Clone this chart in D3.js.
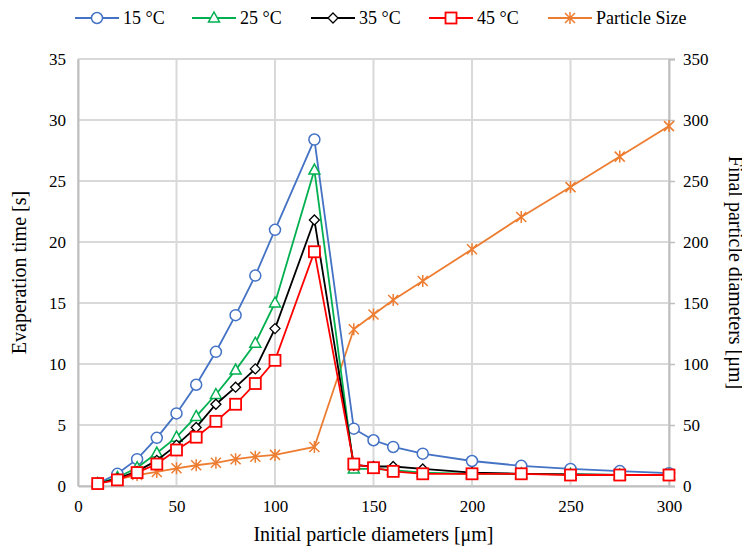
<!DOCTYPE html>
<html><head><meta charset="utf-8">
<script src="https://cdn.jsdelivr.net/npm/d3@7"></script>
</head><body><svg id="c" width="750" height="549" font-family="Liberation Serif"></svg>
<script>
const diameters = [10,20,30,40,50,60,70,80,90,100,120,140,150,160,175,200,225,250,275,300];
const t15 = [0.2,1.0,2.2,3.95,5.95,8.3,11.0,14.0,17.25,21.0,28.4,4.7,3.75,3.2,2.65,2.05,1.65,1.4,1.22,1.05];
const t25 = [0.2,0.7,1.5,2.7,4.0,5.7,7.5,9.5,11.7,15.0,25.9,1.4,1.4,1.3,1.1,1.0,1.0,0.95,0.9,0.9];
const t35 = [0.2,0.6,1.2,2.1,3.35,4.8,6.7,8.1,9.6,12.9,21.8,1.7,1.6,1.6,1.4,1.1,1.0,0.95,0.9,0.9];
const t45 = [0.2,0.5,1.1,1.8,2.95,4.0,5.3,6.7,8.4,10.3,19.2,1.8,1.5,1.2,1.0,1.0,1.0,0.9,0.9,0.9];
const sizes = [2.5,5.5,9,11.5,14.5,17,19,22,24,25.5,32,128.5,140.5,152.5,168,194,220.5,245,270,295];
const seriesNames = ["15 °C","25 °C","35 °C","45 °C","Particle Size"];
const xTicks = [0,50,100,150,200,250,300];
const yLeftTicks = [0,5,10,15,20,25,30,35];
const yRightTicks = [0,50,100,150,200,250,300,350];

const O = -8; // compensates the default body margin
const svg = d3.select("#c");
const L=78+O,R=669+O,T=59+O,B=486+O;
const x = d3.scaleLinear().domain([0,300]).range([L,R]);
const y = d3.scaleLinear().domain([0,35]).range([B,T]);
const y2 = d3.scaleLinear().domain([0,350]).range([B,T]);

const grid = svg.append("g");
yLeftTicks.forEach(v=>grid.append("line").attr("x1",L).attr("x2",R).attr("y1",y(v)).attr("y2",y(v)).attr("stroke","#d9d9d9").attr("stroke-width",2));
xTicks.forEach(v=>grid.append("line").attr("y1",T).attr("y2",B).attr("x1",x(v)).attr("x2",x(v)).attr("stroke","#d9d9d9").attr("stroke-width",2));

const axL = svg.append("g").attr("transform",`translate(${L},0)`).call(d3.axisLeft(y).tickValues(yLeftTicks).tickSize(0).tickPadding(12));
const axB = svg.append("g").attr("transform",`translate(0,${B})`).call(d3.axisBottom(x).tickValues(xTicks).tickSize(0).tickPadding(14));
const axR = svg.append("g").attr("transform",`translate(${R},0)`).call(d3.axisRight(y2).tickValues(yRightTicks).tickSize(6).tickPadding(8));
[axL,axB,axR].forEach(a=>{a.attr("font-family","Liberation Serif").attr("font-size",17);a.selectAll("text").style("font-family",'"Liberation Serif"').style("font-size","17px").attr("fill","#000");a.select(".domain").attr("stroke","#bfbfbf").attr("stroke-width",2);a.selectAll(".tick line").attr("stroke","#bfbfbf").attr("stroke-width",1.5);});

function txt(){ return svg.append("text").style("font-family",'"Liberation Serif"').attr("fill","#000"); }
txt().attr("x",(L+R)/2).attr("y",541+O).attr("text-anchor","middle").style("font-size","20px").text("Initial particle diameters [μm]");
txt().attr("transform",`translate(${26+O},${(T+B)/2}) rotate(-90)`).attr("text-anchor","middle").style("font-size","20px").text("Evaperation time [s]");
txt().attr("transform",`translate(${729+O},${(T+B)/2}) rotate(90)`).attr("text-anchor","middle").style("font-size","20px").text("Final particle diameters [μm]");

const colors = ["#4472C4","#00B050","#000000","#FF0000","#ED7D31"];
const marks = ["circle","triangle","diamond","square","star"];
function drawMarker(g,type,cx,cy,col){
  if(type==="circle") g.append("circle").attr("cx",cx).attr("cy",cy).attr("r",5.5).attr("fill","#fff").attr("stroke",col).attr("stroke-width",1.5);
  else if(type==="triangle") g.append("path").attr("d",`M${cx},${cy-6}L${cx+5.5},${cy+4}L${cx-5.5},${cy+4}Z`).attr("fill","#fff").attr("stroke",col).attr("stroke-width",1.5);
  else if(type==="diamond") g.append("path").attr("d",`M${cx},${cy-5}L${cx+5},${cy}L${cx},${cy+5}L${cx-5},${cy}Z`).attr("fill","#fff").attr("stroke",col).attr("stroke-width",1.3);
  else if(type==="square") g.append("rect").attr("x",cx-5.5).attr("y",cy-5.5).attr("width",11).attr("height",11).attr("fill","#fff").attr("stroke",col).attr("stroke-width",1.8);
  else { const s=5; g.append("path").attr("d",`M${cx-s},${cy-s}L${cx+s},${cy+s}M${cx-s},${cy+s}L${cx+s},${cy-s}M${cx},${cy-s-1}L${cx},${cy+s+1}`).attr("stroke",col).attr("stroke-width",1.5).attr("fill","none"); }
}
const allSeries = [t15,t25,t35,t45,sizes];
const scales = [y,y,y,y,y2];
const order=[4,0,1,2,3];
order.forEach(i=>{
  const data = diameters.map((d,k)=>[d,allSeries[i][k]]);
  const line = d3.line().x(d=>x(d[0])).y(d=>scales[i](d[1]));
  svg.append("path").datum(data).attr("d",line).attr("fill","none").attr("stroke",colors[i]).attr("stroke-width",1.8);
  const g=svg.append("g");
  data.forEach(d=>drawMarker(g,marks[i],x(d[0]),scales[i](d[1]),colors[i]));
});

// legend
const legX=[75,192,311,429,548];
const lg=svg.append("g");
seriesNames.forEach((n,i)=>{
  const lx=legX[i]+O, ly=18+O;
  lg.append("line").attr("x1",lx).attr("x2",lx+44).attr("y1",ly).attr("y2",ly).attr("stroke",colors[i]).attr("stroke-width",1.8);
  drawMarker(lg,marks[i],lx+22,ly,colors[i]);
  lg.append("text").style("font-family",'"Liberation Serif"').attr("fill","#000").attr("x",lx+48).attr("y",ly+6).style("font-size","18px").text(n);
});
</script></body></html>
